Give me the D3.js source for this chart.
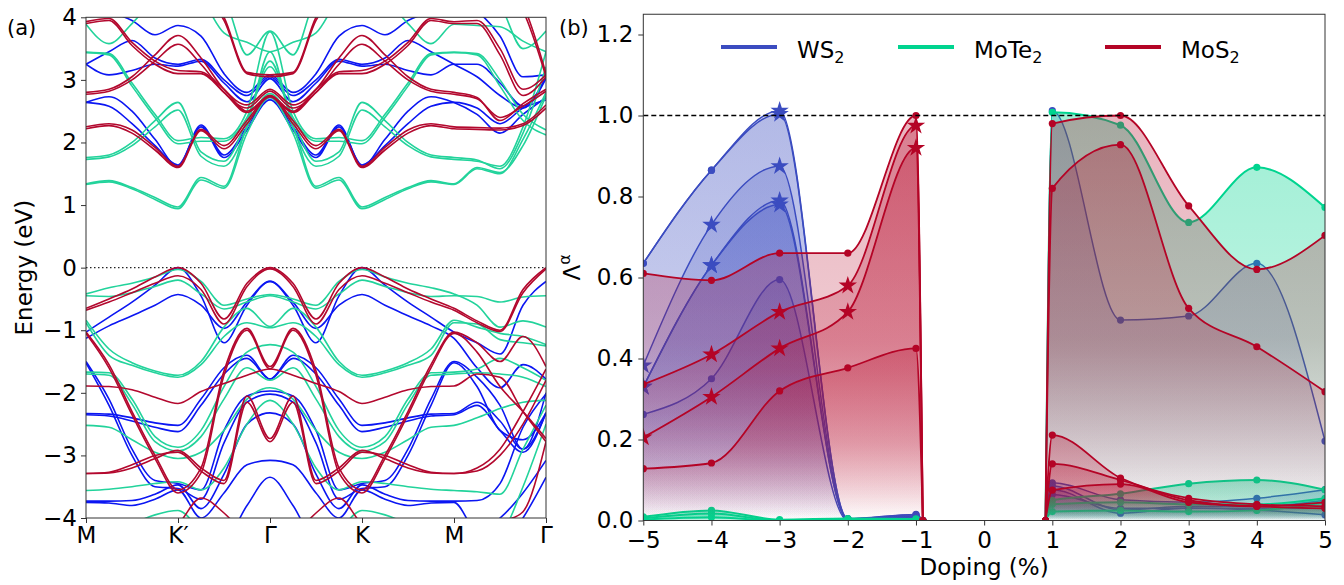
<!DOCTYPE html>
<html>
<head>
<meta charset="utf-8">
<script src="https://cdn.jsdelivr.net/npm/d3@7"></script>
<style>
  body { margin: 0; background: #fff; }
  svg text { font-family: "DejaVu Sans", sans-serif; }
</style>
</head>
<body>
<svg id="fig" width="1344" height="585"></svg>
<script>
// ---------- panel (a): band structure ----------
const pathLabels = ["M", "K\u2032", "\u0393", "K", "M", "\u0393"];
const kHalf = [0, 0.25, 0.5, 0.75, 1, 1.25, 1.5, 1.75, 2];   // M -> K' -> Gamma
const kLast = [4.25, 4.5, 4.75, 5];                            // M -> Gamma
// each band: 9 energies on M-K'-Γ, then 4 on the last M-Γ leg (eV)
const ws2Bands = [
  [2.64, 2.73, 2.50, 2.05, 1.62, 2.28, 1.80, 2.25, 2.72,   2.45, 2.15, 2.45, 2.72],
  [2.64, 2.58, 2.30, 1.95, 1.64, 2.25, 1.76, 2.20, 2.68,   2.55, 2.30, 2.55, 2.68],
  [3.25, 3.45, 3.63, 3.35, 3.25, 3.33, 3.00, 2.75, 3.05,   3.05, 2.75, 2.55, 3.02],
  [3.25, 3.08, 3.15, 3.25, 3.22, 3.30, 2.95, 2.65, 3.02,   3.25, 2.95, 2.58, 3.05],
  [4.30, 4.10, 3.95, 3.72, 3.87, 3.70, 3.10, 2.80, 3.08,   4.10, 3.70, 3.05, 3.08],
  [-1.03, -0.79, -0.55, -0.28, 0.00, -0.45, -1.20, -0.60, -0.22,   -1.20, -1.38, -0.60, -0.22],
  [-1.13, -0.93, -0.77, -0.60, -0.43, -0.60, -0.97, -0.55, -0.22,   -1.60, -1.92, -1.55, -1.78],
  [-1.50, -2.10, -2.90, -3.40, -3.45, -3.55, -2.60, -2.05, -1.97,   -1.75, -2.20, -2.90, -2.00],
  [-1.52, -2.20, -3.00, -3.50, -3.53, -3.70, -2.80, -2.15, -2.02,   -1.90, -2.60, -2.75, -2.32],
  [-2.33, -2.34, -2.40, -2.48, -2.52, -2.10, -1.60, -1.40, -1.78,   -2.15, -2.45, -2.90, -2.32],
  [-2.35, -2.37, -2.45, -2.55, -2.62, -2.20, -1.70, -1.45, -1.78,   -2.20, -2.60, -2.95, -2.32],
  [-3.73, -3.73, -3.72, -3.62, -3.47, -3.85, -3.30, -2.50, -2.32,   -3.72, -3.45, -2.55, -2.02],
  [-3.75, -3.76, -3.80, -3.70, -3.55, -4.00, -3.60, -3.15, -3.08,   -4.20, -4.00, -3.60, -3.08],
  [-4.50, -4.50, -4.50, -4.50, -4.50, -4.50, -4.40, -3.80, -3.35,   -4.50, -4.50, -4.00, -3.35]
];
const mote2Bands = [
  [1.34, 1.39, 1.28, 1.12, 0.97, 1.44, 1.30, 2.25, 2.78,   1.60, 1.52, 1.95, 2.75],
  [1.33, 1.37, 1.26, 1.09, 0.94, 1.40, 1.27, 2.15, 2.72,   1.58, 1.50, 2.05, 2.80],
  [1.76, 1.80, 2.00, 2.35, 2.64, 1.85, 1.70, 2.35, 3.21,   1.72, 1.58, 2.15, 3.21],
  [1.73, 1.77, 1.95, 2.25, 2.52, 1.78, 1.62, 2.25, 3.45,   1.70, 1.62, 2.25, 3.45],
  [3.44, 3.42, 2.95, 2.45, 2.03, 2.08, 2.06, 2.50, 3.77,   3.40, 2.90, 2.35, 2.12],
  [3.44, 3.40, 2.90, 2.40, 1.98, 2.02, 2.02, 2.40, 3.30,   3.42, 3.00, 2.45, 2.20],
  [3.89, 3.58, 3.90, 4.30, 4.50, 4.30, 3.75, 3.60, 3.45,   3.87, 3.85, 3.62, 3.45],
  [4.60, 4.60, 4.60, 4.60, 4.60, 4.50, 4.30, 3.40, 3.78,   4.50, 4.20, 3.50, 3.78],
  [-0.42, -0.32, -0.25, -0.15, -0.03, -0.22, -0.60, -0.50, -0.43,   -0.60, -0.95, -0.85, -0.95],
  [-0.45, -0.46, -0.40, -0.30, -0.20, -0.42, -0.66, -0.55, -0.45,   -0.46, -0.55, -0.47, -0.45],
  [-0.84, -1.30, -1.52, -1.65, -1.72, -1.50, -0.95, -0.65, -0.94,   -0.95, -1.05, -1.10, -1.23],
  [-0.88, -1.40, -1.56, -1.68, -1.75, -1.55, -1.10, -0.88, -0.96,   -0.90, -1.15, -1.20, -1.25],
  [-1.67, -1.68, -2.10, -2.70, -2.87, -2.60, -1.90, -1.35, -1.23,   -1.62, -1.45, -1.60, -1.80],
  [-1.70, -1.72, -2.18, -2.78, -2.93, -2.70, -2.10, -1.60, -1.80,   -1.68, -1.70, -1.75, -1.90],
  [-2.52, -2.55, -2.75, -2.95, -3.05, -2.95, -2.60, -2.10, -1.92,   -2.40, -2.25, -2.15, -2.12],
  [-3.56, -3.54, -3.50, -3.45, -3.42, -3.55, -3.20, -2.50, -2.12,   -3.58, -3.62, -2.90, -2.20],
  [-4.50, -4.30, -4.10, -3.95, -3.88, -4.20, -4.50, -4.50, -4.50,   -4.50, -4.30, -3.50, -2.50]
];
const mos2Bands = [
  [2.25, 2.30, 2.20, 1.92, 1.62, 2.21, 1.95, 2.35, 2.75,   2.24, 2.23, 2.30, 2.60],
  [2.22, 2.27, 2.15, 1.88, 1.60, 2.19, 1.90, 2.30, 2.73,   2.21, 2.20, 2.27, 2.55],
  [2.80, 2.85, 3.05, 3.40, 3.71, 3.35, 2.85, 2.60, 2.85,   2.72, 2.35, 2.62, 2.85],
  [2.77, 2.82, 3.00, 3.30, 3.57, 3.25, 2.80, 2.55, 2.82,   2.70, 2.40, 2.58, 2.82],
  [3.93, 3.98, 3.60, 3.30, 3.15, 3.13, 2.85, 2.50, 2.75,   3.95, 3.50, 2.85, 3.08],
  [3.90, 3.95, 3.55, 3.25, 3.10, 3.10, 2.80, 2.48, 2.73,   3.90, 3.40, 2.75, 3.05],
  [4.60, 4.60, 4.60, 4.60, 4.60, 4.50, 4.00, 3.12, 3.08,   4.60, 4.60, 4.20, 3.10],
  [4.60, 4.60, 4.60, 4.60, 4.60, 4.45, 3.95, 3.10, 3.05,   4.60, 4.50, 4.10, 3.05],
  [-0.65, -0.50, -0.34, -0.15, 0.00, -0.25, -0.82, -0.25, 0.00,   -0.85, -1.00, -0.35, 0.00],
  [-0.68, -0.55, -0.40, -0.25, -0.13, -0.35, -0.90, -0.30, -0.02,   -0.88, -1.02, -0.40, -0.02],
  [-1.03, -1.55, -2.30, -3.00, -3.55, -3.20, -1.65, -0.97, -1.58,   -1.20, -1.50, -1.10, -1.58],
  [-1.05, -1.60, -2.35, -3.05, -3.60, -3.28, -1.72, -1.00, -1.62,   -1.35, -1.90, -2.30, -2.73],
  [-1.89, -1.90, -1.95, -2.07, -2.17, -1.98, -1.85, -1.72, -1.62,   -1.70, -1.75, -2.30, -2.78],
  [-3.29, -3.28, -3.20, -3.05, -2.92, -3.20, -3.40, -2.05, -2.73,   -3.20, -2.90, -2.30, -1.62],
  [-3.29, -3.27, -3.15, -3.00, -2.95, -3.25, -3.45, -2.15, -2.78,   -3.25, -3.00, -2.50, -1.80],
  [-4.60, -4.60, -4.50, -4.30, -4.10, -3.68, -3.92, -4.30, -4.60,   -4.60, -4.10, -3.90, -2.78]
];
const energyTicks = [-4, -3, -2, -1, 0, 1, 2, 3, 4];

// ---------- panel (b): Lambda vs doping ----------
const dopingNeg = [-5, -4, -3, -2, -1, -0.9];
const dopingPos = [0.9, 1, 2, 3, 4, 5];
const dopingTicks = [-5, -4, -3, -2, -1, 0, 1, 2, 3, 4, 5];
const lambdaTicks = [0, 0.2, 0.4, 0.6, 0.8, 1.0, 1.2];
// marker codes per point: o = dot, * = star
const ws2Neg = [
  [0.635, 0.865, 1.012, 0.005, 0.015, 0],
  [0.635, 0.865, 1.004, 0.004, 0.014, 0],
  [0.383, 0.730, 0.875, 0.003, 0.012, 0],
  [0.330, 0.630, 0.790, 0.002, 0.010, 0],
  [0.330, 0.630, 0.780, 0.002, 0.010, 0],
  [0.262, 0.350, 0.595, 0.000, 0.008, 0]
];
const ws2NegMarks = ["oo*ooo", "oo*ooo", "***ooo", "***ooo", "***ooo", "oooooo"];
const ws2Pos = [
  [0, 1.012, 0.495, 0.505, 0.635, 0.196],
  [0, 0.093, 0.051, 0.045, 0.055, 0.076],
  [0, 0.085, 0.026, 0.035, 0.035, 0.050],
  [0, 0.076, 0.018, 0.031, 0.026, 0.014],
  [0, 0.064, 0.030, 0.030, 0.030, 0.030]
];
const mote2Neg = [
  [0.009, 0.025, 0.002, 0.005, 0.004, 0],
  [0.005, 0.017, 0.000, 0.003, 0.002, 0],
  [0.002, 0.008, 0.000, 0.001, 0.001, 0]
];
const mote2Pos = [
  [0, 1.008, 0.976, 0.736, 0.872, 0.773],
  [0, 0.050, 0.066, 0.091, 0.100, 0.076],
  [0, 0.040, 0.045, 0.040, 0.040, 0.055],
  [0, 0.022, 0.025, 0.022, 0.025, 0.045]
];
const mos2Neg = [
  [0.610, 0.593, 0.660, 0.660, 1.000, 0],
  [0.336, 0.410, 0.515, 0.580, 0.975, 0],
  [0.205, 0.305, 0.425, 0.515, 0.920, 0],
  [0.128, 0.142, 0.320, 0.377, 0.425, 0]
];
const mos2NegMarks = ["oooooo", "o****o", "*****o", "oooooo"];
const mos2Pos = [
  [0, 0.980, 1.000, 0.777, 0.620, 0.704],
  [0, 0.820, 0.928, 0.524, 0.429, 0.318],
  [0, 0.211, 0.105, 0.055, 0.040, 0.035],
  [0, 0.140, 0.100, 0.050, 0.035, 0.045],
  [0, 0.075, 0.090, 0.045, 0.035, 0.030]
];

const materials = [
  {key: "ws2", name: "WS", band: "#0b16f2", color: "#3b4cc0", fill: 0.22, lw: 1.5},
  {key: "mote2", name: "MoTe", band: "#22d39b", color: "#00d48f", fill: 0.38, lw: 2},
  {key: "mos2", name: "MoS", band: "#b3082e", color: "#b40426", fill: 0.3, lw: 1.8}
];

const svg = d3.select("#fig");
const defs = svg.append("defs");
const font = 23;

function styleAxis(g) {
  g.select(".domain").remove();
  g.selectAll(".tick line").attr("stroke", "#333");
  g.selectAll(".tick text").attr("fill", "#000").attr("font-size", font)
    .attr("font-family", "DejaVu Sans");
}
const minus = d => (d < 0 ? "\u2212" + (-d) : "" + d);

// ===== panel (a) =====
const xA = d3.scaleLinear().domain([0, 5]).range([86, 546]);
const yA = d3.scaleLinear().domain([-4, 4]).range([518, 17.3]);

defs.append("clipPath").attr("id", "clipA").append("rect")
  .attr("x", xA(0)).attr("y", yA(4)).attr("width", xA(5) - xA(0)).attr("height", yA(-4) - yA(4));

const gA = svg.append("g");
gA.append("line")
  .attr("x1", xA(0)).attr("x2", xA(5)).attr("y1", yA(0)).attr("y2", yA(0))
  .attr("stroke", "#222").attr("stroke-width", 1.3).attr("stroke-dasharray", "1.5,2.5");

function bandPoints(b) {
  const half = b.slice(0, 9), last = b.slice(9);
  const pts = half.map((e, i) => [kHalf[i], e]);
  // Γ -> K -> M mirrors M -> K' -> Γ
  for (let i = 7; i >= 0; i--) pts.push([4 - kHalf[i], half[i]]);
  last.forEach((e, i) => pts.push([kLast[i], e]));
  return pts;
}
const bandLine = d3.line().x(d => xA(d[0])).y(d => yA(d[1])).curve(d3.curveMonotoneX);
const bandSets = {ws2: ws2Bands, mote2: mote2Bands, mos2: mos2Bands};
const bandsG = gA.append("g").attr("clip-path", "url(#clipA)");
materials.forEach(m => {
  bandsG.append("g").selectAll("path").data(bandSets[m.key]).join("path")
    .attr("d", b => bandLine(bandPoints(b)))
    .attr("fill", "none").attr("stroke", m.band).attr("stroke-width", 1.6);
});

gA.append("g").attr("transform", `translate(${xA(0)},0)`)
  .call(d3.axisLeft(yA).tickValues(energyTicks).tickFormat(minus).tickSize(5).tickPadding(4))
  .call(styleAxis);
gA.append("g").attr("transform", `translate(0,${yA(-4)})`)
  .call(d3.axisBottom(xA).tickValues([0, 1, 2, 3, 4, 5]).tickFormat((d, i) => pathLabels[i]).tickSize(5).tickPadding(4))
  .call(styleAxis);
gA.append("rect").attr("x", xA(0)).attr("y", yA(4)).attr("width", xA(5) - xA(0)).attr("height", yA(-4) - yA(4))
  .attr("fill", "none").attr("stroke", "#333").attr("stroke-width", 1);
gA.append("text").attr("transform", `translate(32,${yA(0)}) rotate(-90)`)
  .attr("text-anchor", "middle").attr("font-size", font).text("Energy (eV)");
svg.append("text").attr("x", 7).attr("y", 35).attr("font-size", 21).text("(a)");

// ===== panel (b) =====
const xB = d3.scaleLinear().domain([-5, 5]).range([643.3, 1325]);
const yB = d3.scaleLinear().domain([0, 1.25]).range([520.5, 14.25]);

defs.append("clipPath").attr("id", "clipB").append("rect")
  .attr("x", xB(-5)).attr("y", yB(1.25)).attr("width", xB(5) - xB(-5)).attr("height", yB(0) - yB(1.25));

materials.forEach(m => {
  const gr = defs.append("linearGradient").attr("id", "grad-" + m.key)
    .attr("x1", 0).attr("y1", 0).attr("x2", 0).attr("y2", 1);
  gr.append("stop").attr("offset", 0).attr("stop-color", m.color).attr("stop-opacity", m.fill);
  gr.append("stop").attr("offset", 0.55).attr("stop-color", m.color).attr("stop-opacity", m.fill * 0.7);
  gr.append("stop").attr("offset", 1).attr("stop-color", m.color).attr("stop-opacity", 0);
});

const seriesSets = {
  ws2: [[dopingNeg, ws2Neg, ws2NegMarks], [dopingPos, ws2Pos, null]],
  mote2: [[dopingNeg, mote2Neg, null], [dopingPos, mote2Pos, null]],
  mos2: [[dopingNeg, mos2Neg, mos2NegMarks], [dopingPos, mos2Pos, null]]
};

const area = d3.area().x(d => xB(d[0])).y0(yB(0)).y1(d => yB(d[1])).curve(d3.curveMonotoneX);
const line = d3.line().x(d => xB(d[0])).y(d => yB(d[1])).curve(d3.curveMonotoneX);
const star = d3.symbol().type(d3.symbolStar).size(105);

const gB = svg.append("g").attr("clip-path", "url(#clipB)");
materials.forEach(m => {
  const g = gB.append("g");
  seriesSets[m.key].forEach(([xs, rows, marks]) => {
    rows.forEach((vals, si) => {
      const pts = vals.map((v, i) => [xs[i], v]);
      g.append("path").attr("d", area(pts)).attr("fill", `url(#grad-${m.key})`);
      g.append("path").attr("d", line(pts)).attr("fill", "none")
        .attr("stroke", m.color).attr("stroke-width", m.lw);
      pts.forEach((p, i) => {
        const code = marks ? marks[si][i] : "o";
        if (code === "*") {
          g.append("path").attr("d", star)
            .attr("transform", `translate(${xB(p[0])},${yB(p[1])})`).attr("fill", m.color);
        } else {
          g.append("circle").attr("cx", xB(p[0])).attr("cy", yB(p[1])).attr("r", 3.6).attr("fill", m.color);
        }
      });
    });
  });
});

svg.append("line").attr("x1", xB(-5)).attr("x2", xB(5)).attr("y1", yB(1)).attr("y2", yB(1))
  .attr("stroke", "#000").attr("stroke-width", 1.3).attr("stroke-dasharray", "5,3");

svg.append("g").attr("transform", `translate(${xB(-5)},0)`)
  .call(d3.axisLeft(yB).tickValues(lambdaTicks).tickFormat(d3.format(".1f")).tickSize(5).tickPadding(5))
  .call(styleAxis);
svg.append("g").attr("transform", `translate(0,${yB(0)})`)
  .call(d3.axisBottom(xB).tickValues(dopingTicks).tickFormat(minus).tickSize(5).tickPadding(6))
  .call(styleAxis);
svg.append("rect").attr("x", xB(-5)).attr("y", yB(1.25)).attr("width", xB(5) - xB(-5)).attr("height", yB(0) - yB(1.25))
  .attr("fill", "none").attr("stroke", "#333").attr("stroke-width", 1);

svg.append("text").attr("x", xB(0)).attr("y", 575).attr("text-anchor", "middle")
  .attr("font-size", font).text("Doping (%)");
const yl = svg.append("text").attr("transform", `translate(580,${yB(0.625)}) rotate(-90)`)
  .attr("text-anchor", "middle").attr("font-size", font);
yl.append("tspan").text("\u039b");
yl.append("tspan").attr("font-size", 16).attr("dy", -10).text("\u03b1");
svg.append("text").attr("x", 559).attr("y", 35).attr("font-size", 21).text("(b)");

// legend
const legendX = [721, 898, 1105];
materials.forEach((m, i) => {
  svg.append("line").attr("x1", legendX[i]).attr("x2", legendX[i] + 56).attr("y1", 47).attr("y2", 47)
    .attr("stroke", m.color).attr("stroke-width", 4);
  const t = svg.append("text").attr("x", legendX[i] + 76).attr("y", 58).attr("font-size", font);
  t.append("tspan").text(m.name);
  t.append("tspan").attr("font-size", 16).attr("dy", 5).text("2");
});
</script>
</body>
</html>
